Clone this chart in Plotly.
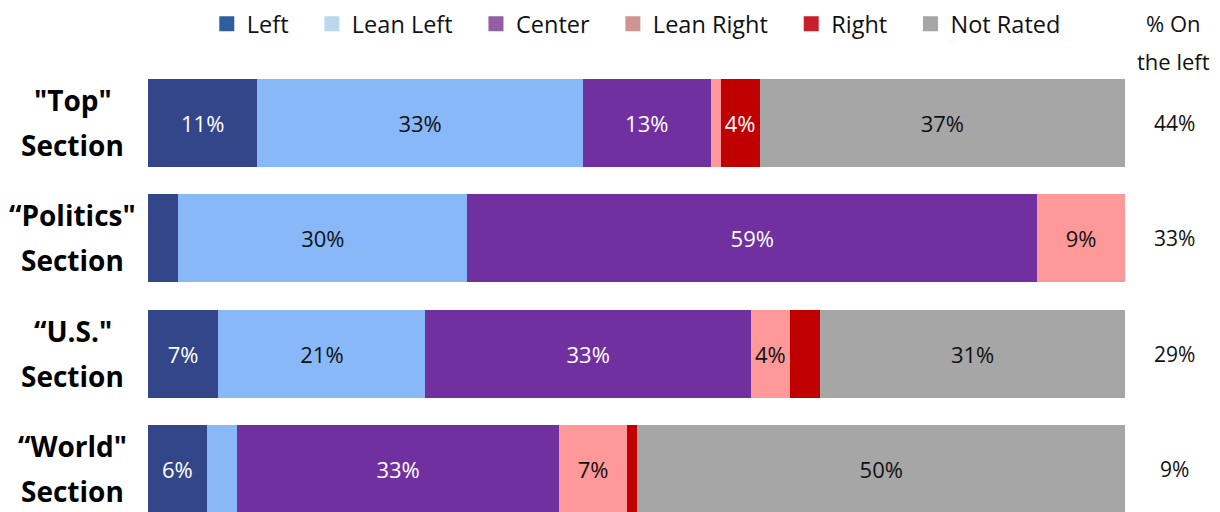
import plotly.graph_objects as go

sections = ['"Top"', '\u201cPolitics"', '\u201cU.S."', '\u201cWorld"']
series_names = ["Left", "Lean Left", "Center", "Lean Right", "Right", "Not Rated"]

left = [11.2, 3.1, 7.2, 6.0]
lean_left = [33.3, 29.6, 21.2, 3.1]
center = [13.1, 58.3, 33.3, 33.0]
lean_right = [1.0, 9.0, 4.0, 6.9]
right = [4.0, 0.0, 3.1, 1.1]
not_rated = [37.4, 0.0, 31.2, 49.9]

left_lbl = ["11%", "", "7%", "6%"]
lean_left_lbl = ["33%", "30%", "21%", ""]
center_lbl = ["13%", "59%", "33%", "33%"]
lean_right_lbl = ["", "9%", "4%", "7%"]
right_lbl = ["4%", "", "", ""]
not_rated_lbl = ["37%", "", "31%", "50%"]

pct_on_left = ["44%", "33%", "29%", "9%"]

bar_colors = ["#33468A", "#88B8F8", "#7030A0", "#FF9999", "#C00000", "#A6A6A6"]
legend_colors = ["#2F5F9E", "#BDD7EE", "#9060A0", "#D09494", "#C8202A", "#A6A6A6"]
text_colors = ["white", "#111111", "white", "#111111", "white", "#111111"]

values = [left, lean_left, center, lean_right, right, not_rated]
labels = [left_lbl, lean_left_lbl, center_lbl, lean_right_lbl, right_lbl, not_rated_lbl]

FONT = "Open Sans"

ypos = list(range(len(sections)))

fig = go.Figure()
for name, vals, lbls, bc, tc in zip(series_names, values, labels, bar_colors, text_colors):
    fig.add_trace(go.Bar(
        y=ypos, x=vals, orientation="h", name=name, width=0.763,
        marker=dict(color=bc, line=dict(width=0)),
        text=lbls, textposition="inside", insidetextanchor="middle", textangle=0,
        textfont=dict(family=FONT, size=22, color=tc),
        showlegend=False, hoverinfo="skip",
    ))

pad = "\u00a0\u00a0\u00a0"
for name, lc in zip(series_names, legend_colors):
    fig.add_trace(go.Scatter(
        x=[None], y=[None], mode="markers", name=name + pad,
        marker=dict(symbol="square", size=15, color=lc),
        showlegend=True, hoverinfo="skip",
    ))

annotations = []
for i, s in enumerate(sections):
    annotations.append(dict(xref="paper", yref="y", x=-0.077, y=i - 0.2, text=f"<b>{s}</b>",
                            showarrow=False, xanchor="center", yanchor="middle",
                            font=dict(family=FONT, size=28, color="black")))
    annotations.append(dict(xref="paper", yref="y", x=-0.077, y=i + 0.19, text="<b>Section</b>",
                            showarrow=False, xanchor="center", yanchor="middle",
                            font=dict(family=FONT, size=28, color="black")))
    annotations.append(dict(xref="paper", yref="y", x=1.051, y=i, text=pct_on_left[i],
                            showarrow=False, xanchor="center", yanchor="middle",
                            font=dict(family=FONT, size=21, color="#111111")))

annotations.append(dict(xref="paper", yref="paper", x=1.05, y=1 + (65 - 23) / 447, text="% On",
                        showarrow=False, xanchor="center", yanchor="middle",
                        font=dict(family=FONT, size=22, color="#111111")))
annotations.append(dict(xref="paper", yref="paper", x=1.05, y=1 + (65 - 61) / 447, text="the left",
                        showarrow=False, xanchor="center", yanchor="middle",
                        font=dict(family=FONT, size=22, color="#111111")))

fig.update_layout(
    barmode="stack",
    width=1212, height=504,
    margin=dict(l=140, r=95, t=57, b=0, pad=0),
    paper_bgcolor="white", plot_bgcolor="white",
    xaxis=dict(range=[0, 100], visible=False, fixedrange=True),
    yaxis=dict(range=[3.373, -0.503], visible=False, fixedrange=True),
    legend=dict(orientation="h", traceorder="normal", x=0.509, xanchor="center",
                yref="container", y=1 - 16 / 504, yanchor="middle",
                font=dict(family=FONT, size=23.5, color="#111111"), itemclick=False,
                bgcolor="rgba(0,0,0,0)", tracegroupgap=0),
    uniformtext=dict(minsize=22, mode="show"),
    annotations=annotations,
    showlegend=True,
)

fig.write_html("out.html")
